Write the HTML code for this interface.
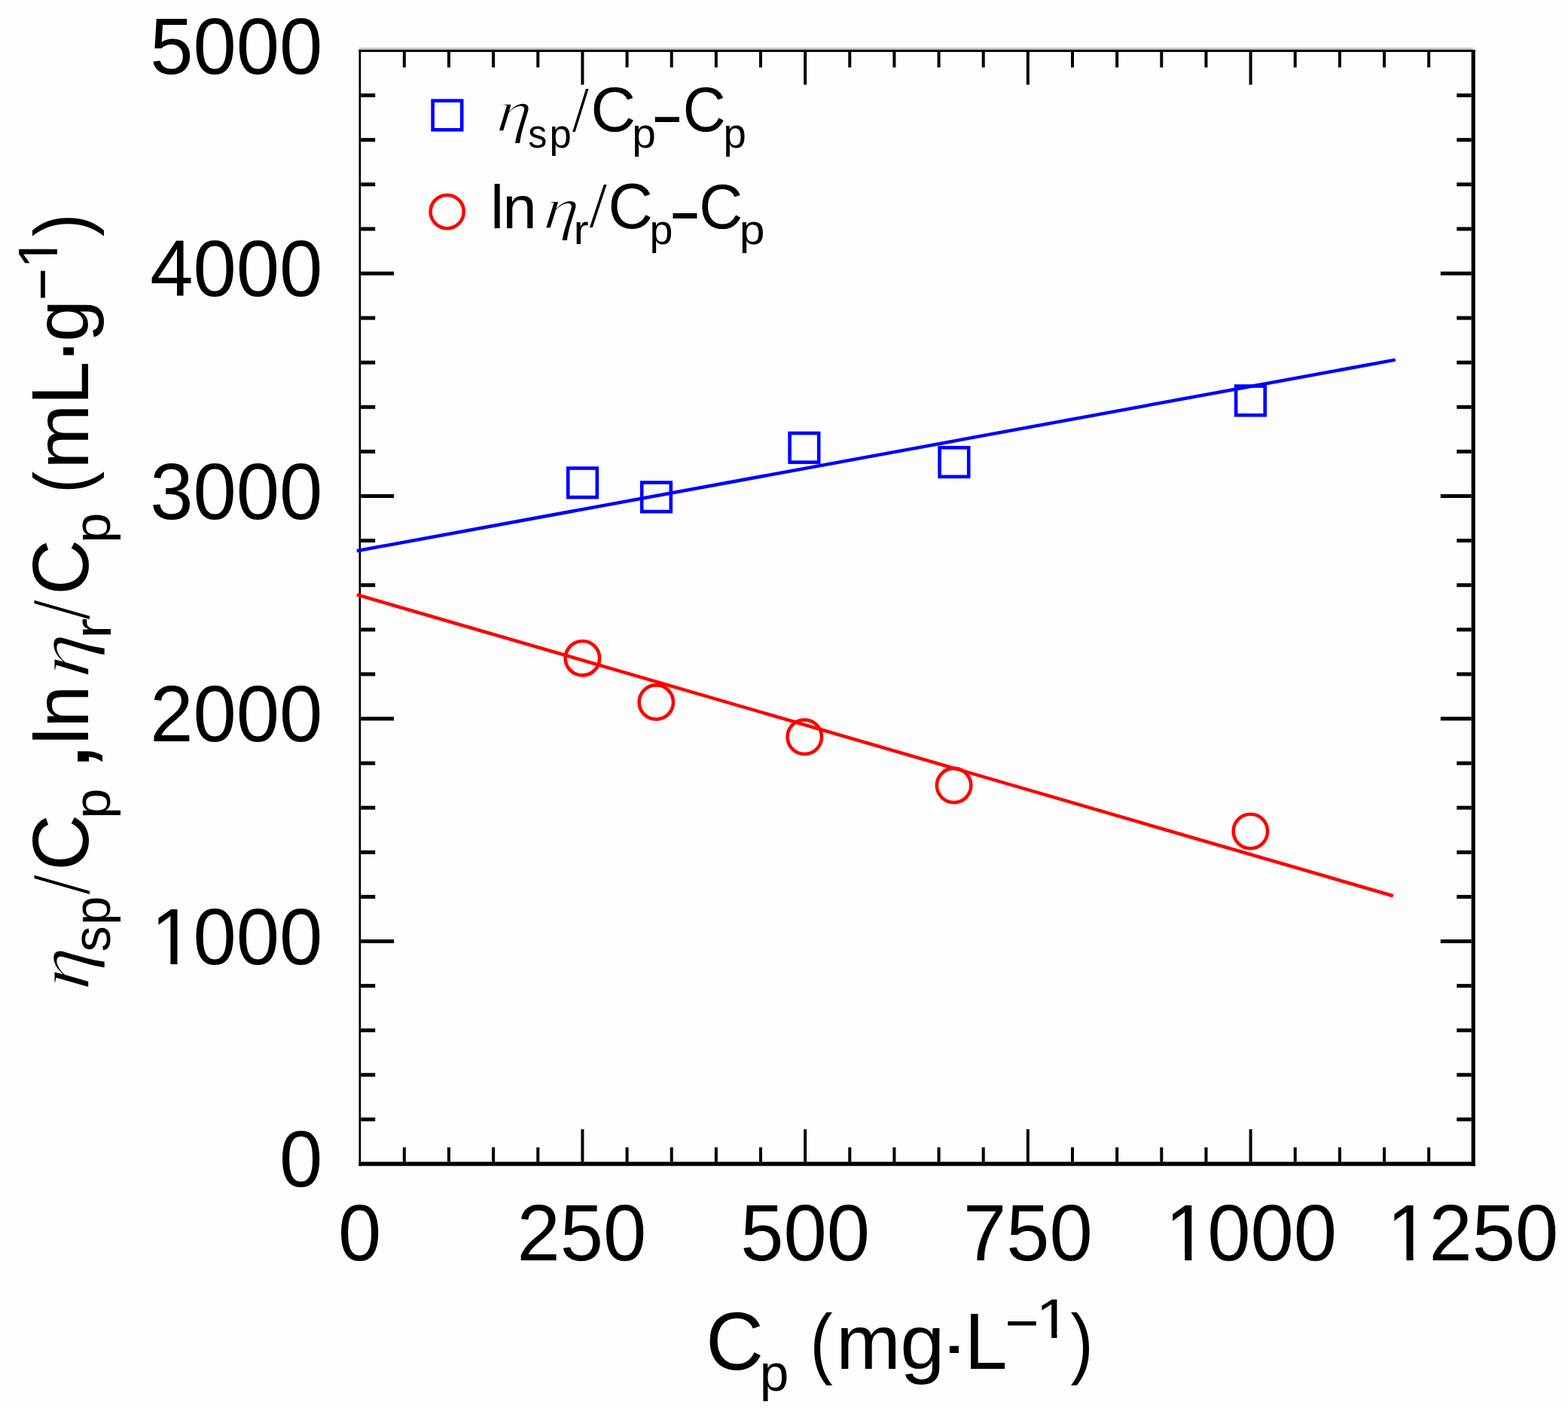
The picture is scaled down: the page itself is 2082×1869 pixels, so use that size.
<!DOCTYPE html>
<html><head><meta charset="utf-8"><title>Viscosity plot</title>
<style>html,body{margin:0;padding:0;background:#fdfdfd;overflow:hidden;}svg{display:block;}text{fill:#000;}</style>
</head><body>
<svg width="2082" height="1869" viewBox="0 0 2082 1869"><defs><clipPath id="one1030" clipPathUnits="userSpaceOnUse"><path d="M-103.0,-206.0H206.0V-8.89H-103.0Z M25.90,-9.69H35.00V103.0H25.90Z"/></clipPath><clipPath id="one710" clipPathUnits="userSpaceOnUse"><path d="M-71.0,-142.0H142.0V-6.50H-71.0Z M17.85,-7.30H24.13V71.0H17.85Z"/></clipPath></defs><rect x="0" y="0" width="2082" height="1869" fill="#fdfdfd"/>
<rect x="476.5" y="63.3" width="1479.2" height="2.7" fill="#c4c4c4"/>
<rect x="476.5" y="66" width="2.7" height="1481.7" fill="#000"/>
<rect x="476.5" y="66" width="1482.3" height="3" fill="#000"/>
<rect x="1953.7" y="66" width="5.1" height="1481.7" fill="#000"/>
<rect x="476.5" y="1542.2" width="1482.3" height="5.5" fill="#000"/>
<rect x="534.84" y="1523" width="4.0" height="19.2" fill="#000"/>
<rect x="534.84" y="69" width="4.0" height="20.5" fill="#000"/>
<rect x="593.99" y="1523" width="4.0" height="19.2" fill="#000"/>
<rect x="593.99" y="69" width="4.0" height="20.5" fill="#000"/>
<rect x="653.13" y="1523" width="4.0" height="19.2" fill="#000"/>
<rect x="653.13" y="69" width="4.0" height="20.5" fill="#000"/>
<rect x="712.28" y="1523" width="4.0" height="19.2" fill="#000"/>
<rect x="712.28" y="69" width="4.0" height="20.5" fill="#000"/>
<rect x="771.42" y="1499" width="4.0" height="43.2" fill="#000"/>
<rect x="771.42" y="69" width="4.0" height="43.5" fill="#000"/>
<rect x="830.56" y="1523" width="4.0" height="19.2" fill="#000"/>
<rect x="830.56" y="69" width="4.0" height="20.5" fill="#000"/>
<rect x="889.71" y="1523" width="4.0" height="19.2" fill="#000"/>
<rect x="889.71" y="69" width="4.0" height="20.5" fill="#000"/>
<rect x="948.85" y="1523" width="4.0" height="19.2" fill="#000"/>
<rect x="948.85" y="69" width="4.0" height="20.5" fill="#000"/>
<rect x="1008.00" y="1523" width="4.0" height="19.2" fill="#000"/>
<rect x="1008.00" y="69" width="4.0" height="20.5" fill="#000"/>
<rect x="1067.14" y="1499" width="4.0" height="43.2" fill="#000"/>
<rect x="1067.14" y="69" width="4.0" height="43.5" fill="#000"/>
<rect x="1126.28" y="1523" width="4.0" height="19.2" fill="#000"/>
<rect x="1126.28" y="69" width="4.0" height="20.5" fill="#000"/>
<rect x="1185.43" y="1523" width="4.0" height="19.2" fill="#000"/>
<rect x="1185.43" y="69" width="4.0" height="20.5" fill="#000"/>
<rect x="1244.57" y="1523" width="4.0" height="19.2" fill="#000"/>
<rect x="1244.57" y="69" width="4.0" height="20.5" fill="#000"/>
<rect x="1303.72" y="1523" width="4.0" height="19.2" fill="#000"/>
<rect x="1303.72" y="69" width="4.0" height="20.5" fill="#000"/>
<rect x="1362.86" y="1499" width="4.0" height="43.2" fill="#000"/>
<rect x="1362.86" y="69" width="4.0" height="43.5" fill="#000"/>
<rect x="1422.00" y="1523" width="4.0" height="19.2" fill="#000"/>
<rect x="1422.00" y="69" width="4.0" height="20.5" fill="#000"/>
<rect x="1481.15" y="1523" width="4.0" height="19.2" fill="#000"/>
<rect x="1481.15" y="69" width="4.0" height="20.5" fill="#000"/>
<rect x="1540.29" y="1523" width="4.0" height="19.2" fill="#000"/>
<rect x="1540.29" y="69" width="4.0" height="20.5" fill="#000"/>
<rect x="1599.44" y="1523" width="4.0" height="19.2" fill="#000"/>
<rect x="1599.44" y="69" width="4.0" height="20.5" fill="#000"/>
<rect x="1658.58" y="1499" width="4.0" height="43.2" fill="#000"/>
<rect x="1658.58" y="69" width="4.0" height="43.5" fill="#000"/>
<rect x="1717.72" y="1523" width="4.0" height="19.2" fill="#000"/>
<rect x="1717.72" y="69" width="4.0" height="20.5" fill="#000"/>
<rect x="1776.87" y="1523" width="4.0" height="19.2" fill="#000"/>
<rect x="1776.87" y="69" width="4.0" height="20.5" fill="#000"/>
<rect x="1836.01" y="1523" width="4.0" height="19.2" fill="#000"/>
<rect x="1836.01" y="69" width="4.0" height="20.5" fill="#000"/>
<rect x="1895.16" y="1523" width="4.0" height="19.2" fill="#000"/>
<rect x="1895.16" y="69" width="4.0" height="20.5" fill="#000"/>
<rect x="479.2" y="1483.40" width="19.0" height="5.0" fill="#000"/>
<rect x="1934.3" y="1483.40" width="19.4" height="5.0" fill="#000"/>
<rect x="479.2" y="1424.30" width="19.0" height="5.0" fill="#000"/>
<rect x="1934.3" y="1424.30" width="19.4" height="5.0" fill="#000"/>
<rect x="479.2" y="1365.20" width="19.0" height="5.0" fill="#000"/>
<rect x="1934.3" y="1365.20" width="19.4" height="5.0" fill="#000"/>
<rect x="479.2" y="1306.10" width="19.0" height="5.0" fill="#000"/>
<rect x="1934.3" y="1306.10" width="19.4" height="5.0" fill="#000"/>
<rect x="479.2" y="1247.00" width="43.8" height="5.0" fill="#000"/>
<rect x="1912.8" y="1247.00" width="40.9" height="5.0" fill="#000"/>
<rect x="479.2" y="1187.90" width="19.0" height="5.0" fill="#000"/>
<rect x="1934.3" y="1187.90" width="19.4" height="5.0" fill="#000"/>
<rect x="479.2" y="1128.80" width="19.0" height="5.0" fill="#000"/>
<rect x="1934.3" y="1128.80" width="19.4" height="5.0" fill="#000"/>
<rect x="479.2" y="1069.70" width="19.0" height="5.0" fill="#000"/>
<rect x="1934.3" y="1069.70" width="19.4" height="5.0" fill="#000"/>
<rect x="479.2" y="1010.60" width="19.0" height="5.0" fill="#000"/>
<rect x="1934.3" y="1010.60" width="19.4" height="5.0" fill="#000"/>
<rect x="479.2" y="951.50" width="43.8" height="5.0" fill="#000"/>
<rect x="1912.8" y="951.50" width="40.9" height="5.0" fill="#000"/>
<rect x="479.2" y="892.40" width="19.0" height="5.0" fill="#000"/>
<rect x="1934.3" y="892.40" width="19.4" height="5.0" fill="#000"/>
<rect x="479.2" y="833.30" width="19.0" height="5.0" fill="#000"/>
<rect x="1934.3" y="833.30" width="19.4" height="5.0" fill="#000"/>
<rect x="479.2" y="774.20" width="19.0" height="5.0" fill="#000"/>
<rect x="1934.3" y="774.20" width="19.4" height="5.0" fill="#000"/>
<rect x="479.2" y="715.10" width="19.0" height="5.0" fill="#000"/>
<rect x="1934.3" y="715.10" width="19.4" height="5.0" fill="#000"/>
<rect x="479.2" y="656.00" width="43.8" height="5.0" fill="#000"/>
<rect x="1912.8" y="656.00" width="40.9" height="5.0" fill="#000"/>
<rect x="479.2" y="596.90" width="19.0" height="5.0" fill="#000"/>
<rect x="1934.3" y="596.90" width="19.4" height="5.0" fill="#000"/>
<rect x="479.2" y="537.80" width="19.0" height="5.0" fill="#000"/>
<rect x="1934.3" y="537.80" width="19.4" height="5.0" fill="#000"/>
<rect x="479.2" y="478.70" width="19.0" height="5.0" fill="#000"/>
<rect x="1934.3" y="478.70" width="19.4" height="5.0" fill="#000"/>
<rect x="479.2" y="419.60" width="19.0" height="5.0" fill="#000"/>
<rect x="1934.3" y="419.60" width="19.4" height="5.0" fill="#000"/>
<rect x="479.2" y="360.50" width="43.8" height="5.0" fill="#000"/>
<rect x="1912.8" y="360.50" width="40.9" height="5.0" fill="#000"/>
<rect x="479.2" y="301.40" width="19.0" height="5.0" fill="#000"/>
<rect x="1934.3" y="301.40" width="19.4" height="5.0" fill="#000"/>
<rect x="479.2" y="242.30" width="19.0" height="5.0" fill="#000"/>
<rect x="1934.3" y="242.30" width="19.4" height="5.0" fill="#000"/>
<rect x="479.2" y="183.20" width="19.0" height="5.0" fill="#000"/>
<rect x="1934.3" y="183.20" width="19.4" height="5.0" fill="#000"/>
<rect x="479.2" y="124.10" width="19.0" height="5.0" fill="#000"/>
<rect x="1934.3" y="124.10" width="19.4" height="5.0" fill="#000"/>
<line x1="473.8" y1="731.22" x2="1852.8" y2="477.62" stroke="#0000ff" stroke-width="4.5"/>
<line x1="473.8" y1="789.37" x2="1849.8" y2="1189.23" stroke="#ff0000" stroke-width="4.5"/>
<rect x="754.20" y="621.50" width="38.60" height="38.60" fill="none" stroke="#0000ff" stroke-width="4.6"/>
<rect x="852.20" y="640.50" width="38.60" height="38.60" fill="none" stroke="#0000ff" stroke-width="4.6"/>
<rect x="1048.60" y="575.00" width="38.60" height="38.60" fill="none" stroke="#0000ff" stroke-width="4.6"/>
<rect x="1247.60" y="594.20" width="38.60" height="38.60" fill="none" stroke="#0000ff" stroke-width="4.6"/>
<rect x="1641.10" y="512.50" width="38.60" height="38.60" fill="none" stroke="#0000ff" stroke-width="4.6"/>
<rect x="574.60" y="133.70" width="38.60" height="38.60" fill="none" stroke="#0000ff" stroke-width="4.6"/>
<circle cx="773.4" cy="873.7" r="22.70" fill="none" stroke="#ff0000" stroke-width="4.6"/>
<circle cx="871.3" cy="932.1" r="22.70" fill="none" stroke="#ff0000" stroke-width="4.6"/>
<circle cx="1068.3" cy="978.3" r="22.70" fill="none" stroke="#ff0000" stroke-width="4.6"/>
<circle cx="1266.6" cy="1042.6" r="22.70" fill="none" stroke="#ff0000" stroke-width="4.6"/>
<circle cx="1660.4" cy="1103.5" r="22.70" fill="none" stroke="#ff0000" stroke-width="4.6"/>
<circle cx="593.7" cy="281.1" r="22.10" fill="none" stroke="#ff0000" stroke-width="4.6"/>
<text transform="translate(371.04,1575.40) scale(1.0000,1.0350)" style="font-family:'Liberation Sans',Arial,sans-serif;font-size:103.0px">0</text>
<text transform="translate(200.51,1279.90) scale(1.0000,1.0350)" clip-path="url(#one1030)" style="font-family:'Liberation Sans',Arial,sans-serif;font-size:103.0px">1</text><text transform="translate(256.47,1279.90) scale(1.0000,1.0350)" style="font-family:'Liberation Sans',Arial,sans-serif;font-size:103.0px">000</text>
<text transform="translate(199.19,984.40) scale(1.0000,1.0350)" style="font-family:'Liberation Sans',Arial,sans-serif;font-size:103.0px">2000</text>
<text transform="translate(199.19,688.90) scale(1.0000,1.0350)" style="font-family:'Liberation Sans',Arial,sans-serif;font-size:103.0px">3000</text>
<text transform="translate(199.19,393.40) scale(1.0000,1.0350)" style="font-family:'Liberation Sans',Arial,sans-serif;font-size:103.0px">4000</text>
<text transform="translate(199.19,97.90) scale(1.0000,1.0350)" style="font-family:'Liberation Sans',Arial,sans-serif;font-size:103.0px">5000</text>
<text transform="translate(449.06,1673.00) scale(1.0000,1.0350)" style="font-family:'Liberation Sans',Arial,sans-serif;font-size:103.0px">0</text>
<text transform="translate(686.49,1673.00) scale(1.0000,1.0350)" style="font-family:'Liberation Sans',Arial,sans-serif;font-size:103.0px">250</text>
<text transform="translate(983.21,1673.00) scale(1.0000,1.0350)" style="font-family:'Liberation Sans',Arial,sans-serif;font-size:103.0px">500</text>
<text transform="translate(1278.93,1673.00) scale(1.0000,1.0350)" style="font-family:'Liberation Sans',Arial,sans-serif;font-size:103.0px">750</text>
<text transform="translate(1547.33,1673.00) scale(1.0000,1.0350)" clip-path="url(#one1030)" style="font-family:'Liberation Sans',Arial,sans-serif;font-size:103.0px">1</text><text transform="translate(1603.30,1673.00) scale(1.0000,1.0350)" style="font-family:'Liberation Sans',Arial,sans-serif;font-size:103.0px">000</text>
<text transform="translate(1841.55,1673.00) scale(1.0000,1.0350)" clip-path="url(#one1030)" style="font-family:'Liberation Sans',Arial,sans-serif;font-size:103.0px">1</text><text transform="translate(1897.52,1673.00) scale(1.0000,1.0350)" style="font-family:'Liberation Sans',Arial,sans-serif;font-size:103.0px">250</text>
<text transform="translate(937.21,1818.33) scale(1.0302,1.0682)" style="font-family:'Liberation Sans',Arial,sans-serif;font-size:103px">C</text>
<text transform="translate(1008.83,1846.00) scale(1.0055,0.9920)" style="font-family:'Liberation Sans',Arial,sans-serif;font-size:69px">p</text>
<text transform="translate(1075.39,1816.90) scale(0.8788,1.0129)" style="font-family:'Liberation Sans',Arial,sans-serif;font-size:103px">(</text>
<text transform="translate(1110.18,1817.20) scale(0.9976,0.9852)" style="font-family:'Liberation Sans',Arial,sans-serif;font-size:103px">m</text>
<text transform="translate(1195.23,1817.33) scale(1.0341,0.9903)" style="font-family:'Liberation Sans',Arial,sans-serif;font-size:103px">g</text>
<text transform="translate(1246.05,1815.06) scale(1.2236,0.8496)" style="font-family:'Liberation Sans',Arial,sans-serif;font-size:103px">·</text>
<text transform="translate(1280.63,1817.00) scale(0.9909,1.0302)" style="font-family:'Liberation Sans',Arial,sans-serif;font-size:103px">L</text>
<text transform="translate(1334.19,1782.49) scale(1.0871,1.0669)" style="font-family:'Liberation Sans',Arial,sans-serif;font-size:71px">−</text>
<text transform="translate(1375.60,1776.00) scale(1.1561,1.0379)" clip-path="url(#one710)" style="font-family:'Liberation Sans',Arial,sans-serif;font-size:71px">1</text>
<text transform="translate(1421.47,1817.19) scale(0.8788,0.9994)" style="font-family:'Liberation Sans',Arial,sans-serif;font-size:103px">)</text>
<g transform="rotate(-90)"><text transform="translate(-1315.10,117.76) scale(1.0614,0.9800) skewX(-5.143)" style="font-family:'Liberation Serif','Times New Roman',serif;font-style:italic;font-size:103px;stroke:#fdfdfd;stroke-width:1.6px">η</text><text transform="translate(-1263.61,146.12) scale(0.9938,1.0159)" style="font-family:'Liberation Sans',Arial,sans-serif;font-size:69px">s</text><text transform="translate(-1227.83,145.58) scale(0.9958,0.9997)" style="font-family:'Liberation Sans',Arial,sans-serif;font-size:69px">p</text><text transform="translate(-1188.19,110.57) scale(0.8244,0.8871)" style="font-family:'DejaVu Sans',sans-serif;font-weight:200;font-size:100px">/</text><text transform="translate(-1155.75,116.87) scale(1.0041,1.0257)" style="font-family:'Liberation Sans',Arial,sans-serif;font-size:103px">C</text><text transform="translate(-1086.89,145.58) scale(1.0538,0.9997)" style="font-family:'Liberation Sans',Arial,sans-serif;font-size:69px">p</text><text transform="translate(-1023.63,117.93) scale(1.3651,1.3559)" style="font-family:'Liberation Sans',Arial,sans-serif;font-size:103px">,</text><text transform="translate(-988.74,116.90) scale(1.0000,0.9888)" style="font-family:'Liberation Sans',Arial,sans-serif;font-size:103px">l</text><text transform="translate(-966.12,116.90) scale(0.9827,0.9942)" style="font-family:'Liberation Sans',Arial,sans-serif;font-size:103px">n</text><text transform="translate(-900.85,117.76) scale(1.1021,0.9800) skewX(-5.143)" style="font-family:'Liberation Serif','Times New Roman',serif;font-style:italic;font-size:103px;stroke:#fdfdfd;stroke-width:1.6px">η</text><text transform="translate(-848.07,146.80) scale(1.1942,1.0316)" style="font-family:'Liberation Sans',Arial,sans-serif;font-size:69px">r</text><text transform="translate(-823.29,110.57) scale(0.8244,0.8871)" style="font-family:'DejaVu Sans',sans-serif;font-weight:200;font-size:100px">/</text><text transform="translate(-789.87,116.87) scale(0.9888,1.0257)" style="font-family:'Liberation Sans',Arial,sans-serif;font-size:103px">C</text><text transform="translate(-721.09,145.58) scale(1.0538,0.9997)" style="font-family:'Liberation Sans',Arial,sans-serif;font-size:69px">p</text><text transform="translate(-654.70,117.21) scale(0.8459,0.9983)" style="font-family:'Liberation Sans',Arial,sans-serif;font-size:103px">(</text><text transform="translate(-622.69,116.50) scale(1.0073,0.9779)" style="font-family:'Liberation Sans',Arial,sans-serif;font-size:103px">m</text><text transform="translate(-537.78,116.50) scale(1.0151,1.0414)" style="font-family:'Liberation Sans',Arial,sans-serif;font-size:103px">L</text><text transform="translate(-484.34,126.28) scale(1.0503,1.2563)" style="font-family:'Liberation Sans',Arial,sans-serif;font-size:103px">·</text><text transform="translate(-453.80,117.25) scale(0.9715,0.9942)" style="font-family:'Liberation Sans',Arial,sans-serif;font-size:103px">g</text><text transform="translate(-399.03,84.15) scale(1.0378,1.1459)" style="font-family:'Liberation Sans',Arial,sans-serif;font-size:71px">−</text><text transform="translate(-356.46,75.50) scale(1.0636,1.0502)" clip-path="url(#one710)" style="font-family:'Liberation Sans',Arial,sans-serif;font-size:71px">1</text><text transform="translate(-314.04,117.21) scale(0.8898,0.9983)" style="font-family:'Liberation Sans',Arial,sans-serif;font-size:103px">)</text></g>
<text transform="translate(658.58,174.23) scale(1.1291,0.9824) skewX(-5.143)" style="font-family:'Liberation Serif','Times New Roman',serif;font-style:italic;font-size:80px;stroke:#fdfdfd;stroke-width:1.6px">η</text>
<text transform="translate(701.30,196.18) scale(0.9132,0.9750)" style="font-family:'Liberation Sans',Arial,sans-serif;font-size:55px">s</text>
<text transform="translate(729.50,196.40) scale(0.9582,0.9809)" style="font-family:'Liberation Sans',Arial,sans-serif;font-size:55px">p</text>
<text transform="translate(759.00,168.55) scale(0.9018,0.8908)" style="font-family:'DejaVu Sans',sans-serif;font-weight:200;font-size:78px">/</text>
<text transform="translate(784.51,173.98) scale(1.0303,1.0470)" style="font-family:'Liberation Sans',Arial,sans-serif;font-size:80px">C</text>
<text transform="translate(839.33,196.25) scale(1.0350,1.0029)" style="font-family:'Liberation Sans',Arial,sans-serif;font-size:55px">p</text>
<text transform="translate(869.70,184.26) scale(0.7244,1.2520)" style="font-family:'Liberation Sans',Arial,sans-serif;font-size:80px">–</text>
<text transform="translate(906.80,173.98) scale(0.9849,1.0470)" style="font-family:'Liberation Sans',Arial,sans-serif;font-size:80px">C</text>
<text transform="translate(960.49,196.25) scale(0.9905,1.0029)" style="font-family:'Liberation Sans',Arial,sans-serif;font-size:55px">p</text>
<text transform="translate(651.21,303.40) scale(1.0000,1.0299)" style="font-family:'Liberation Sans',Arial,sans-serif;font-size:80px">l</text>
<text transform="translate(667.61,303.40) scale(1.0152,0.9850)" style="font-family:'Liberation Sans',Arial,sans-serif;font-size:80px">n</text>
<text transform="translate(720.73,302.82) scale(1.1457,0.9769) skewX(-5.143)" style="font-family:'Liberation Serif','Times New Roman',serif;font-style:italic;font-size:80px;stroke:#fdfdfd;stroke-width:1.6px">η</text>
<text transform="translate(761.48,324.20) scale(1.1000,1.0002)" style="font-family:'Liberation Sans',Arial,sans-serif;font-size:55px">r</text>
<text transform="translate(781.84,296.48) scale(0.9521,0.8877)" style="font-family:'DejaVu Sans',sans-serif;font-weight:200;font-size:78px">/</text>
<text transform="translate(807.52,302.58) scale(1.0283,1.0540)" style="font-family:'Liberation Sans',Arial,sans-serif;font-size:80px">C</text>
<text transform="translate(862.42,324.47) scale(1.0108,1.0102)" style="font-family:'Liberation Sans',Arial,sans-serif;font-size:55px">p</text>
<text transform="translate(893.40,313.27) scale(0.7176,1.3267)" style="font-family:'Liberation Sans',Arial,sans-serif;font-size:80px">–</text>
<text transform="translate(928.32,302.58) scale(1.0047,1.0540)" style="font-family:'Liberation Sans',Arial,sans-serif;font-size:80px">C</text>
<text transform="translate(981.79,324.47) scale(1.1037,1.0102)" style="font-family:'Liberation Sans',Arial,sans-serif;font-size:55px">p</text></svg>
</body></html>
